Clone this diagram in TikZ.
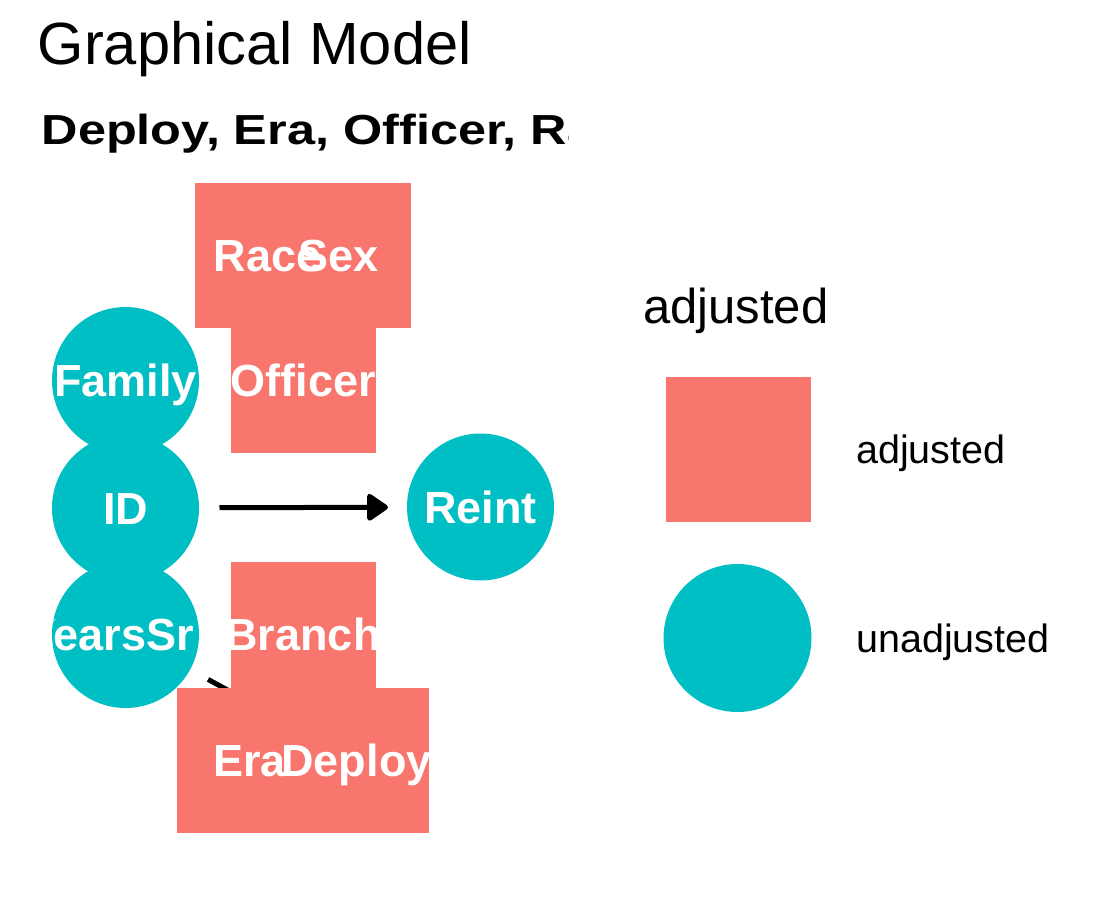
\documentclass[tikz,border=0pt]{standalone}
\usepackage{fontspec}
\setmainfont{Liberation Sans}
\usetikzlibrary{arrows.meta}
\definecolor{adj}{HTML}{F8766D}
\definecolor{unadj}{HTML}{00BFC4}
\pgfdeclarelayer{bg}
\pgfsetlayers{bg,main}
\tikzset{
  sqnode/.style={rectangle, fill=adj, minimum size=145pt, inner sep=0pt, outer sep=0pt},
  cnode/.style={circle, fill=unadj, minimum size=147pt, inner sep=0pt, outer sep=0pt},
  lbl/.style={text=white, font=\fontsize{45}{45}\selectfont\bfseries, inner sep=0pt, anchor=base},
  dagedge/.style={line width=5pt, draw=black, -{Triangle[length=23pt,width=30pt,round]}, line join=round, shorten <=20.5pt, shorten >=19pt},
  legtext/.style={anchor=base west, inner sep=0pt, font=\fontsize{39.5}{39.5}\selectfont},
}
\begin{document}
\begin{tikzpicture}[x=1pt,y=-1pt]
\begin{pgfonlayer}{bg}
\fill[white] (0,0) rectangle (1103,899);
\end{pgfonlayer}
\useasboundingbox (0,0) rectangle (1103,899);

% titles
\node[anchor=base west, inner sep=0pt, font=\fontsize{59.6}{59.6}\selectfont] (title) at (37.5,65) {Graphical Model};
\begin{scope}
  \clip (0,0) rectangle (568,899);
  \node[anchor=base west, inner sep=0pt, font=\fontsize{42}{42}\selectfont\bfseries] (subtitle) at (41.5,144) {\scalebox{1.2}[1]{Deploy, Era, Officer, Ra}};
\end{scope}

% node shapes
\node[cnode] (Family) at (125.5,380.5) {};
\node[cnode] (ID) at (125.5,508) {};
\node[cnode] (YearsSr) at (125.5,634.5) {};
\node[cnode] (Reint) at (480.5,507) {};
\node[sqnode] (Officer) at (303.5,380.5) {};
\node[sqnode] (Race) at (267.5,255) {};
\node[sqnode] (Sex) at (338.5,255) {};
\node[sqnode] (Branch) at (303,634.5) {};
\node[sqnode] (Era) at (249.5,760) {};
\node[sqnode] (Deploy) at (356.5,760) {};

% edges (behind the shapes)
\begin{pgfonlayer}{bg}
\draw[dagedge] (ID) -- (Reint);
\draw[dagedge] (YearsSr) -- (Deploy);
\end{pgfonlayer}

% labels, each clipped to its own shape
\begin{scope}\clip (Family.center) circle[radius=73.5pt];
  \node[lbl] (Family-t) at ([yshift=-16pt]Family.center) {Family};\end{scope}
\begin{scope}\clip (ID.center) circle[radius=73.5pt];
  \node[lbl] (ID-t) at ([yshift=-16pt]ID.center) {ID};\end{scope}
\begin{scope}\clip (YearsSr.center) circle[radius=73.5pt];
  \node[lbl] (YearsSr-t) at ([xshift=-15.5pt,yshift=-16pt]YearsSr.center) {YearsSr};\end{scope}
\begin{scope}\clip (Reint.center) circle[radius=73.5pt];
  \node[lbl] (Reint-t) at ([yshift=-16pt]Reint.center) {Reint};\end{scope}
\begin{scope}\clip (Officer.south west) rectangle (Officer.north east);
  \node[lbl] (Officer-t) at ([yshift=-16pt]Officer.center) {Officer};\end{scope}
\begin{scope}\clip (Race.south west) rectangle (Race.north east);
  \node[lbl] (Race-t) at ([yshift=-16pt]Race.center) {Race};\end{scope}
\begin{scope}\clip (Sex.south west) rectangle (Sex.north east);
  \node[lbl] (Sex-t) at ([yshift=-16pt]Sex.center) {Sex};\end{scope}
\begin{scope}\clip (Branch.south west) rectangle (Branch.north east);
  \node[lbl] (Branch-t) at ([yshift=-16pt]Branch.center) {Branch};\end{scope}
\begin{scope}\clip (Era.south west) rectangle (Era.north east);
  \node[lbl] (Era-t) at ([yshift=-16pt]Era.center) {Era};\end{scope}
\begin{scope}\clip (Deploy.south west) rectangle (Deploy.north east);
  \node[lbl] (Deploy-t) at ([yshift=-16pt]Deploy.center) {Deploy};\end{scope}

% legend
\node[anchor=base west, inner sep=0pt, font=\fontsize{49}{49}\selectfont] (legtitle) at (643,323) {adjusted};
\node[sqnode] (legsq) at (738,449) {};
\node[cnode, minimum size=148pt] (legcirc) at (737.5,638) {};
\node[legtext] (leglab1) at (856,463) {adjusted};
\node[legtext] (leglab2) at (856,652) {unadjusted};
\end{tikzpicture}
\end{document}
